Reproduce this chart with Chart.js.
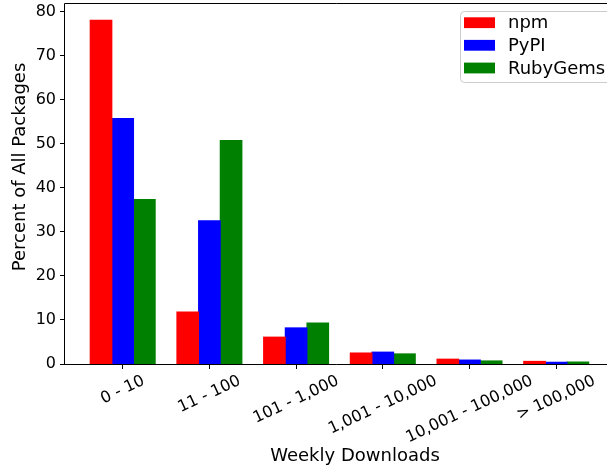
<!DOCTYPE html>
<html><head><meta charset="utf-8">
<script src="https://cdn.jsdelivr.net/npm/chart.js@4.4.0/dist/chart.umd.min.js"></script>
<style>html,body{margin:0;padding:0;overflow:hidden;background:#fff;} canvas{display:block;}</style>
</head><body>
<canvas id="c" width="607" height="471"></canvas>
<script>
const categories = ['0 - 10', '11 - 100', '101 - 1,000', '1,001 - 10,000', '10,001 - 100,000', '> 100,000'];
const seriesNames = ['npm', 'PyPI', 'RubyGems'];
const npmValues = [78.0, 11.8, 6.1, 2.5, 1.1, 0.6];
const pypiValues = [55.7, 32.5, 8.2, 2.7, 0.9, 0.4];
const rubyValues = [37.3, 50.7, 9.3, 2.3, 0.7, 0.45];
const yTicks = [0, 10, 20, 30, 40, 50, 60, 70, 80];
const xTitle = 'Weekly Downloads';
const yTitle = 'Percent of All Packages';
const colors = ['#ff0000', '#0000ff', '#008000'];

const FONT = "'DejaVu Sans', sans-serif";
const seriesValues = [npmValues, pypiValues, rubyValues];

const datasets = seriesNames.map((name, k) => ({
  label: name,
  data: seriesValues[k].map((v, i) => ({x: i, y: v})),
  backgroundColor: colors[k],
  borderWidth: 0,
  inflateAmount: 0.5,
  categoryPercentage: 0.75,
  barPercentage: 1.0
}));

const drawPlugin = {
  id: 'mplLook',
  afterDatasetsDraw(chart) {
    const ctx = chart.ctx;
    const a = chart.chartArea;
    const xs = chart.scales.x;
    ctx.save();
    // frame (right spine lies beyond the visible area in the reference)
    ctx.strokeStyle = '#000';
    ctx.lineWidth = 1;
    const L = Math.round(a.left) - 0.5, T = Math.round(a.top) + 0.5;
    const R = chart.width + 2, B = Math.round(a.bottom) + 0.5;
    ctx.beginPath();
    ctx.moveTo(R, T); ctx.lineTo(L, T); ctx.lineTo(L, B); ctx.lineTo(R, B);
    ctx.stroke();

    // rotated x tick labels, centered on ticks (matplotlib style)
    const th = 25 * Math.PI / 180;
    ctx.font = '16px ' + FONT;
    ctx.fillStyle = '#000';
    ctx.textAlign = 'center';
    ctx.textBaseline = 'middle';
    categories.forEach((lab, i) => {
      const cx = xs.getPixelForValue(i);
      const w = ctx.measureText(lab).width;
      const h = 16;
      const H = w * Math.sin(th) + h * Math.cos(th);
      const top = 373;
      ctx.save();
      ctx.translate(cx, top + H / 2);
      ctx.rotate(-th);
      ctx.fillText(lab, 0, 0);
      ctx.restore();
    });

    // axis titles
    ctx.font = '18px ' + FONT;
    ctx.fillText(xTitle, 355, 456);
    ctx.save();
    ctx.translate(20, 167);
    ctx.rotate(-Math.PI / 2);
    ctx.fillText(yTitle, 0, 0);
    ctx.restore();

    // legend
    const bx = 460.5, by = 11.5, bw = 200, bh = 71, r = 4;
    ctx.beginPath();
    ctx.moveTo(bx + r, by);
    ctx.lineTo(bx + bw - r, by); ctx.arcTo(bx + bw, by, bx + bw, by + r, r);
    ctx.lineTo(bx + bw, by + bh - r); ctx.arcTo(bx + bw, by + bh, bx + bw - r, by + bh, r);
    ctx.lineTo(bx + r, by + bh); ctx.arcTo(bx, by + bh, bx, by + bh - r, r);
    ctx.lineTo(bx, by + r); ctx.arcTo(bx, by, bx + r, by, r);
    ctx.closePath();
    ctx.fillStyle = 'rgba(255,255,255,0.8)';
    ctx.fill();
    ctx.strokeStyle = '#cccccc';
    ctx.stroke();
    const centers = [22.7, 45.3, 68];
    ctx.textAlign = 'left';
    chart.data.datasets.forEach((ds, k) => {
      ctx.fillStyle = ds.backgroundColor;
      ctx.fillRect(464, centers[k] - 5.4, 31, 10.8);
      ctx.fillStyle = '#000';
      ctx.fillText(ds.label, 508, centers[k] + 1);
    });
    ctx.restore();
  }
};

function zeroPad(s) { s.paddingTop = 0; s.paddingBottom = 0; s.paddingLeft = 0; s.paddingRight = 0; }

new Chart(document.getElementById('c'), {
  type: 'bar',
  data: { datasets },
  options: {
    responsive: false,
    animation: false,
    devicePixelRatio: 1,
    layout: { padding: { top: 3, right: 0, left: 0, bottom: 0 } },
    plugins: { legend: { display: false }, tooltip: { enabled: false }, title: { display: false } },
    scales: {
      x: {
        type: 'linear',
        min: -0.6655,
        max: 5.586,
        offset: false,
        afterBuildTicks: s => { s.ticks = categories.map((c, i) => ({ value: i })); },
        afterFit: s => { s.height = 471 - 364; zeroPad(s); },
        ticks: { display: false },
        grid: { offset: false, drawOnChartArea: false, drawTicks: true, tickLength: 5, color: '#000', lineWidth: 1 },
        border: { display: false }
      },
      y: {
        min: 0,
        max: 81.9,
        afterBuildTicks: s => { s.ticks = yTicks.map(v => ({ value: v })); },
        afterFit: s => { s.width = 65; zeroPad(s); },
        ticks: { color: '#000', font: { size: 16, family: FONT }, padding: 4 },
        grid: { offset: false, drawOnChartArea: false, drawTicks: true, tickLength: 5, color: '#000', lineWidth: 1 },
        border: { display: false }
      }
    }
  },
  plugins: [drawPlugin]
});
</script>
</body></html>
